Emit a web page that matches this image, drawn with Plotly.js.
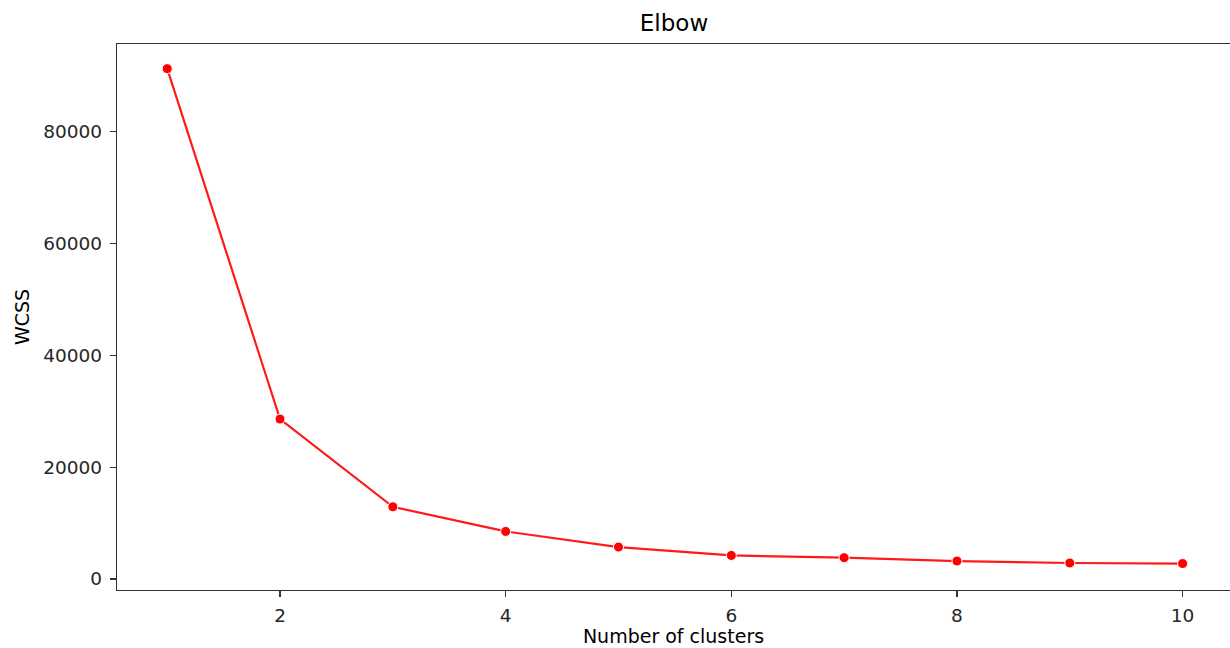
<!DOCTYPE html>
<html>
<head>
<meta charset="utf-8">
<script src="https://cdn.plot.ly/plotly-3.0.1.min.js"></script>
<style>html,body{margin:0;padding:0;background:#fff;}#chart{width:1230px;height:648px;}</style>
</head>
<body>
<div id="chart"></div>
<script>
const clusters = [1, 2, 3, 4, 5, 6, 7, 8, 9, 10];
const wcss = [91300, 28600, 12900, 8500, 5700, 4200, 3800, 3200, 2850, 2750];
const xTicks = [2, 4, 6, 8, 10];
const yTicks = [0, 20000, 40000, 60000, 80000];

const FONT = 'DejaVu Sans, sans-serif';
const trace = {
  x: clusters, y: wcss, type: 'scatter', mode: 'lines+markers',
  line: {color: 'rgba(255,0,0,0.9)', width: 2.2},
  marker: {color: '#ff0000', size: 10, line: {color: '#ffffff', width: 1}},
  hoverinfo: 'x+y'
};
const axisCommon = {
  showline: true, linecolor: '#333', linewidth: 1.3,
  ticks: 'outside', ticklen: 6, tickcolor: '#333', tickwidth: 1.2,
  showgrid: false, zeroline: false,
  tickfont: {family: FONT, size: 18.5, color: '#262626'}
};
const layout = {
  width: 1230, height: 648,
  margin: {l: 117, r: 0, t: 44, b: 58},
  paper_bgcolor: '#fff', plot_bgcolor: '#fff',
  showlegend: false,
  title: {text: 'Elbow', x: 0.548, xanchor: 'center', y: 0.964, yanchor: 'middle',
          font: {family: FONT, size: 23, color: '#000'}},
  xaxis: Object.assign({}, axisCommon, {
    mirror: true,
    range: [0.555, 10.42], tickvals: xTicks, ticktext: xTicks.map(String),
    ticklabelstandoff: 2,
    title: {text: 'Number of clusters', standoff: 4, font: {family: FONT, size: 19, color: '#000'}}
  }),
  yaxis: Object.assign({}, axisCommon, {
    mirror: false,
    range: [-1980, 95710], tickvals: yTicks, ticktext: yTicks.map(String),
    ticklabelstandoff: 4,
    title: {text: 'WCSS', standoff: 8, font: {family: FONT, size: 19, color: '#000'}}
  })
};
Plotly.newPlot('chart', [trace], layout, {displayModeBar: false, staticPlot: true});
</script>
</body>
</html>
